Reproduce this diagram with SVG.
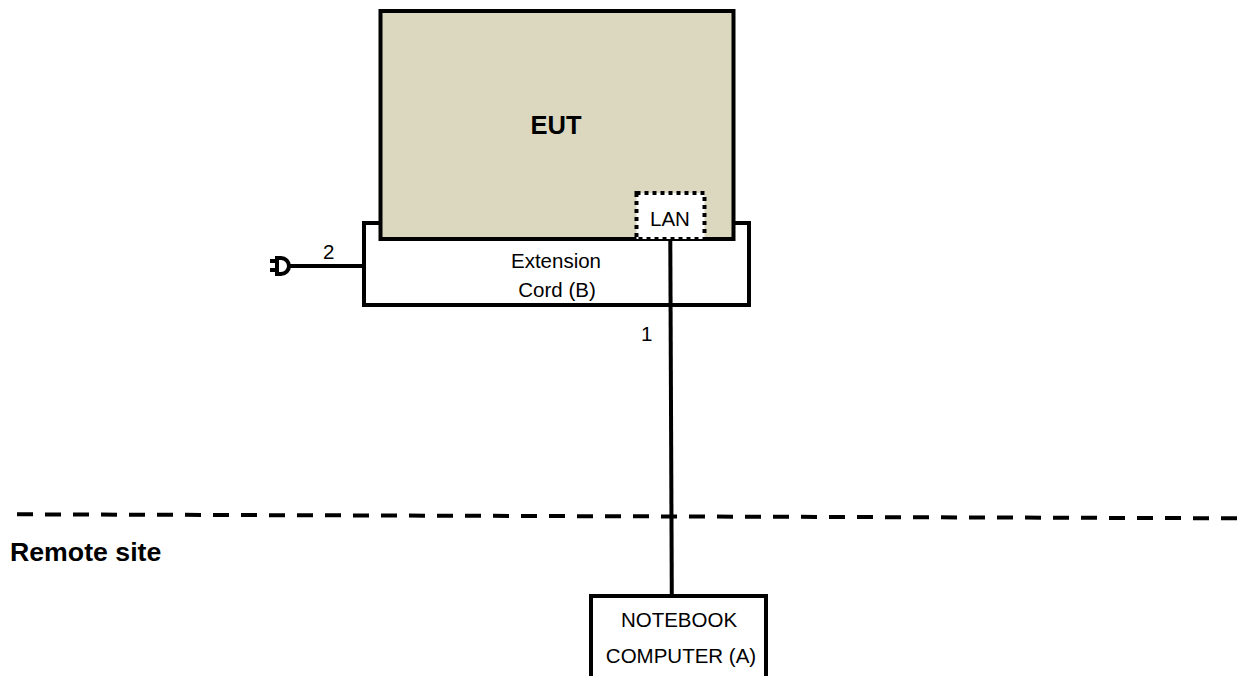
<svg xmlns="http://www.w3.org/2000/svg" width="1237" height="676" viewBox="0 0 1237 676">
<style>
text{font-family:"Liberation Sans",Arial,sans-serif;font-size:20.500px;fill:#000}
.c{text-anchor:middle}
.b{font-weight:bold}
.l{fill:none;stroke:#000;stroke-width:4}
</style>
<rect width="1237" height="676" fill="#fff"/>
<g id="extension-cord"><path class="l" d="M380 223H364V305H749V223H733" stroke-linejoin="miter"/>
<text class="c" x="556" y="268">Extension</text><text class="c" x="557" y="297">Cord (B)</text></g>
<g id="eut"><rect x="380.500" y="11" width="353" height="228" fill="#dcd8c0" stroke="#000" stroke-width="4"/>
<text class="c b" x="556" y="134" style="font-size:25.500px">EUT</text></g>
<g id="lan"><rect x="636.500" y="193" width="68" height="46" fill="#fff" stroke="#000" stroke-width="4" stroke-dasharray="4 4"/>
<text class="c" x="670" y="226">LAN</text></g>
<g id="connectors">
<path class="l" d="M670.300 241L671.800 595"/>
<path class="l" d="M288 266H364"/>
<path d="M17 514.300L1237 518.300" fill="none" stroke="#000" stroke-width="4" stroke-dasharray="16 12"/>
</g>
<g id="plug"><path class="l" d="M277 258H281A8 8 0 0 1 281 274H277ZM270 261H277M270 270H277"/></g>
<g id="notebook"><path d="M591 676V596H766V676" fill="#fff" stroke="#000" stroke-width="4"/>
<text class="c" x="679" y="627">NOTEBOOK</text><text class="c" x="681" y="663">COMPUTER (A)</text></g>
<text x="323" y="259">2</text>
<text x="641" y="341">1</text>
<text class="b" x="10" y="561" style="font-size:26.700px">Remote site</text>
</svg>
